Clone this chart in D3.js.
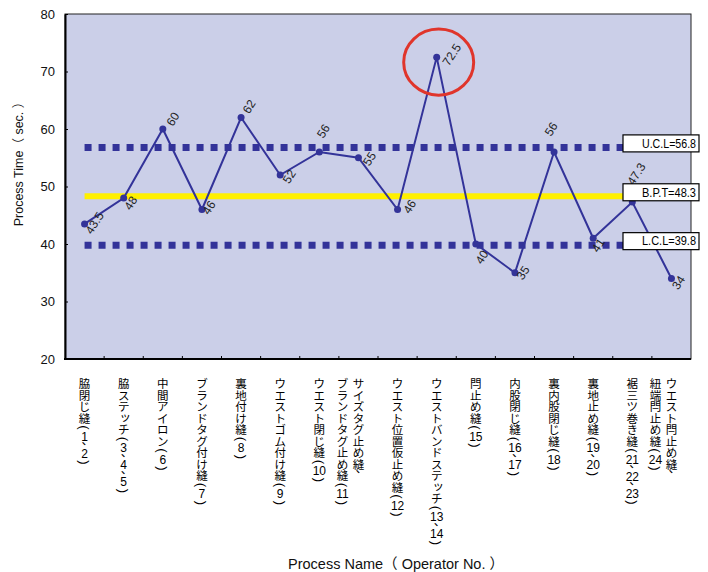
<!DOCTYPE html>
<html>
<head>
<meta charset="utf-8">
<script src="https://cdn.jsdelivr.net/npm/d3@7"></script>
<style>
  html, body { margin: 0; padding: 0; background: #fff; }
  svg { display: block; }
</style>
</head>
<body>
<svg id="chart" width="708" height="572"></svg>
<script>
// Process names (one entry per line of the vertical label)
const processNames = [
  ["脇閉じ縫（1、2）"],
  ["脇ステッチ（3、4、5）"],
  ["中間アイロン（6）"],
  ["ブランドタグ付け縫（7）"],
  ["裏地付け縫（8）"],
  ["ウエストゴム付け縫（9）"],
  ["ウエスト閉じ縫（10）"],
  ["サイズタグ止め縫、", "ブランドタグ止め縫（11）"],
  ["ウエスト位置仮止め縫（12）"],
  ["ウエストバンドステッチ（13、14）"],
  ["閂止め縫（15）"],
  ["内股閉じ縫（16、17）"],
  ["裏内股閉じ縫（18）"],
  ["裏地止め縫（19、20）"],
  ["裾三ツ巻き縫（21、22、23）"],
  ["ウエスト閂止め縫、", "紐端閂止め縫（24）"]
];

// Measured process time per process (sec.)
const processTimes = [43.5, 48, 60, 46, 62, 52, 56, 55, 46, 72.5, 40, 35, 56, 41, 47.3, 34];

// Y axis ticks
const yTicks = [20, 30, 40, 50, 60, 70, 80];

// Control lines: upper limit, balanced pitch time, lower limit
const controlNames = ["U.C.L", "B.P.T", "L.C.L"];
const controlValues = [56.8, 48.3, 39.8];

// Index of the highlighted bottleneck process
const bottleneckIndex = processTimes.indexOf(d3.max(processTimes));

const svg = d3.select("#chart");
const plotL = 65, plotR = 691, plotT = 14, plotB = 359;
const NAVY = "#333399";
const LATIN = "'Liberation Sans', Arial, 'Noto Sans CJK JP', sans-serif";
const CJK = "'Noto Sans CJK JP', sans-serif";

const x = d3.scaleBand().domain(d3.range(processTimes.length)).range([plotL, plotR]).padding(0);
const cx = i => x(i) + x.bandwidth() / 2;
const y = d3.scaleLinear().domain([20, 80]).range([plotB, plotT]);

// Plot area
svg.append("rect")
  .attr("x", plotL).attr("y", plotT)
  .attr("width", plotR - plotL).attr("height", plotB - plotT)
  .attr("fill", "#CBCFE8")
  .attr("stroke", "#222").attr("stroke-width", 1);

// Y axis
const yAxis = d3.axisLeft(y).tickValues(yTicks).tickSizeInner(-3).tickSizeOuter(0).tickPadding(10);
const gy = svg.append("g").attr("transform", `translate(${plotL},0)`).call(yAxis);
gy.select(".domain").attr("stroke", "#000").attr("stroke-width", 2);
gy.selectAll(".tick line").attr("stroke", "#000");
gy.selectAll(".tick text").attr("font-family", LATIN).attr("font-size", 13).attr("fill", "#111");

// X axis: ticks on category boundaries, pointing inward
const gx = svg.append("g").attr("transform", `translate(0,${plotB})`);
gx.append("line").attr("x1", plotL - 1).attr("x2", plotR).attr("y1", 0).attr("y2", 0)
  .attr("stroke", "#000").attr("stroke-width", 2);
gx.selectAll("line.tick").data(d3.range(1, processTimes.length)).join("line")
  .attr("class", "tick")
  .attr("x1", d => x(d)).attr("x2", d => x(d))
  .attr("y1", 0).attr("y2", -3)
  .attr("stroke", "#000");

// Control limit lines (dotted) and balanced pitch time (yellow)
const x0 = cx(0), x1 = cx(processTimes.length - 1);
controlNames.forEach((name, i) => {
  const isPitch = name === "B.P.T";
  svg.append("line")
    .attr("x1", x0).attr("x2", x1)
    .attr("y1", y(controlValues[i])).attr("y2", y(controlValues[i]))
    .attr("stroke", isPitch ? "#FFF000" : NAVY)
    .attr("stroke-width", isPitch ? 6 : 7)
    .attr("stroke-dasharray", isPitch ? null : "7,7");
});

// Process time line
svg.append("path")
  .datum(processTimes)
  .attr("d", d3.line().x((d, i) => cx(i)).y(d => y(d)))
  .attr("fill", "none").attr("stroke", NAVY).attr("stroke-width", 2);

svg.selectAll("circle.pt").data(processTimes).join("circle")
  .attr("class", "pt")
  .attr("cx", (d, i) => cx(i)).attr("cy", d => y(d)).attr("r", 3.5)
  .attr("fill", NAVY);

// Value labels, slanted; each one nudged off its point by hand
const labelNudge = [
  [10, -1], [7, 5], [10, -10], [7, -2], [8, -11], [9, 1.5], [4, -21], [11, 1],
  [12, -3], [15, -2.5], [6, 13], [8, 0], [-3, -23], [5, 7], [4, -28], [7, 4]
];
svg.selectAll("text.val").data(processTimes).join("text")
  .attr("class", "val")
  .attr("transform", (d, i) => `translate(${cx(i) + labelNudge[i][0]},${y(d) + labelNudge[i][1]}) rotate(-57)`)
  .attr("text-anchor", "middle").attr("dy", "0.35em")
  .attr("font-family", LATIN).attr("font-size", 12).attr("fill", "#222")
  .text(d => String(d));

// Highlight ring around the bottleneck
svg.append("ellipse")
  .attr("cx", cx(bottleneckIndex) + 2).attr("cy", y(processTimes[bottleneckIndex]) + 5)
  .attr("rx", 35).attr("ry", 33)
  .attr("fill", "none").attr("stroke", "#E0352B").attr("stroke-width", 3);

// Control line name boxes
controlNames.forEach((name, i) => {
  const yc = y(controlValues[i]) - 4;
  svg.append("rect")
    .attr("x", 623).attr("y", yc - 8.5).attr("width", 76).attr("height", 17)
    .attr("fill", "#fff").attr("stroke", "#000").attr("stroke-width", 1.2);
  svg.append("text")
    .attr("x", 696).attr("y", yc).attr("dy", "0.36em")
    .attr("text-anchor", "end")
    .attr("font-family", LATIN).attr("font-size", 12).attr("fill", "#000")
    .attr("textLength", 54).attr("lengthAdjust", "spacingAndGlyphs")
    .text(`${name}=${controlValues[i]}`);
});

// Vertical process-name labels, laid out glyph by glyph down each column
const labelTop = 378;
const FS_CJK = 11.5, FS_NUM = 12;
const g = svg.append("g");
processNames.forEach((lines, i) => {
  lines.forEach((line, li) => {
    const lx = cx(i) - li * 16;
    let cur = labelTop;
    const tokens = line.match(/\d+|[（(]|[）)]|、|./g);
    tokens.forEach(tok => {
      if (/^\d+$/.test(tok)) {
        // digit runs stay horizontal, side by side
        g.append("text").attr("x", lx).attr("y", cur + 5.5).attr("dy", "0.35em")
          .attr("text-anchor", "middle").attr("font-family", LATIN).attr("font-size", FS_NUM)
          .attr("fill", "#000").text(tok);
        cur += 11;
      } else if (/[（()）]/.test(tok)) {
        // parentheses turned a quarter turn, as in vertical typesetting
        const ch = (tok === "（" || tok === "(") ? "(" : ")";
        g.append("text").attr("x", 0).attr("y", 0).attr("dy", "0.35em")
          .attr("transform", `translate(${lx},${cur + 3.5}) rotate(90)`)
          .attr("text-anchor", "middle").attr("font-family", LATIN).attr("font-size", 13)
          .attr("fill", "#000").text(ch);
        cur += 7;
      } else if (tok === "、") {
        g.append("text").attr("x", lx + 3).attr("y", cur - 1).attr("dy", "0.35em")
          .attr("text-anchor", "middle").attr("font-family", CJK).attr("font-size", 12)
          .attr("fill", "#000").text(tok);
        cur += 6;
      } else {
        const small = tok === "ッ";
        g.append("text").attr("x", lx + (small ? 1.5 : 0))
          .attr("y", cur + FS_CJK / 2 - (small ? 1.5 : 0)).attr("dy", "0.38em")
          .attr("text-anchor", "middle").attr("font-family", CJK).attr("font-size", FS_CJK)
          .attr("fill", "#000").text(tok);
        cur += FS_CJK;
      }
    });
  });
});

// Axis titles
svg.append("text")
  .attr("transform", `translate(23,161) rotate(-90)`)
  .attr("text-anchor", "middle")
  .attr("font-family", LATIN).attr("font-size", 12.5).attr("fill", "#111")
  .text("Process Time（ sec. ）");

svg.append("text")
  .attr("x", 396).attr("y", 569)
  .attr("text-anchor", "middle")
  .attr("font-family", LATIN).attr("font-size", 14.5).attr("fill", "#111")
  .text("Process Name（ Operator No. ）");
</script>
</body>
</html>
